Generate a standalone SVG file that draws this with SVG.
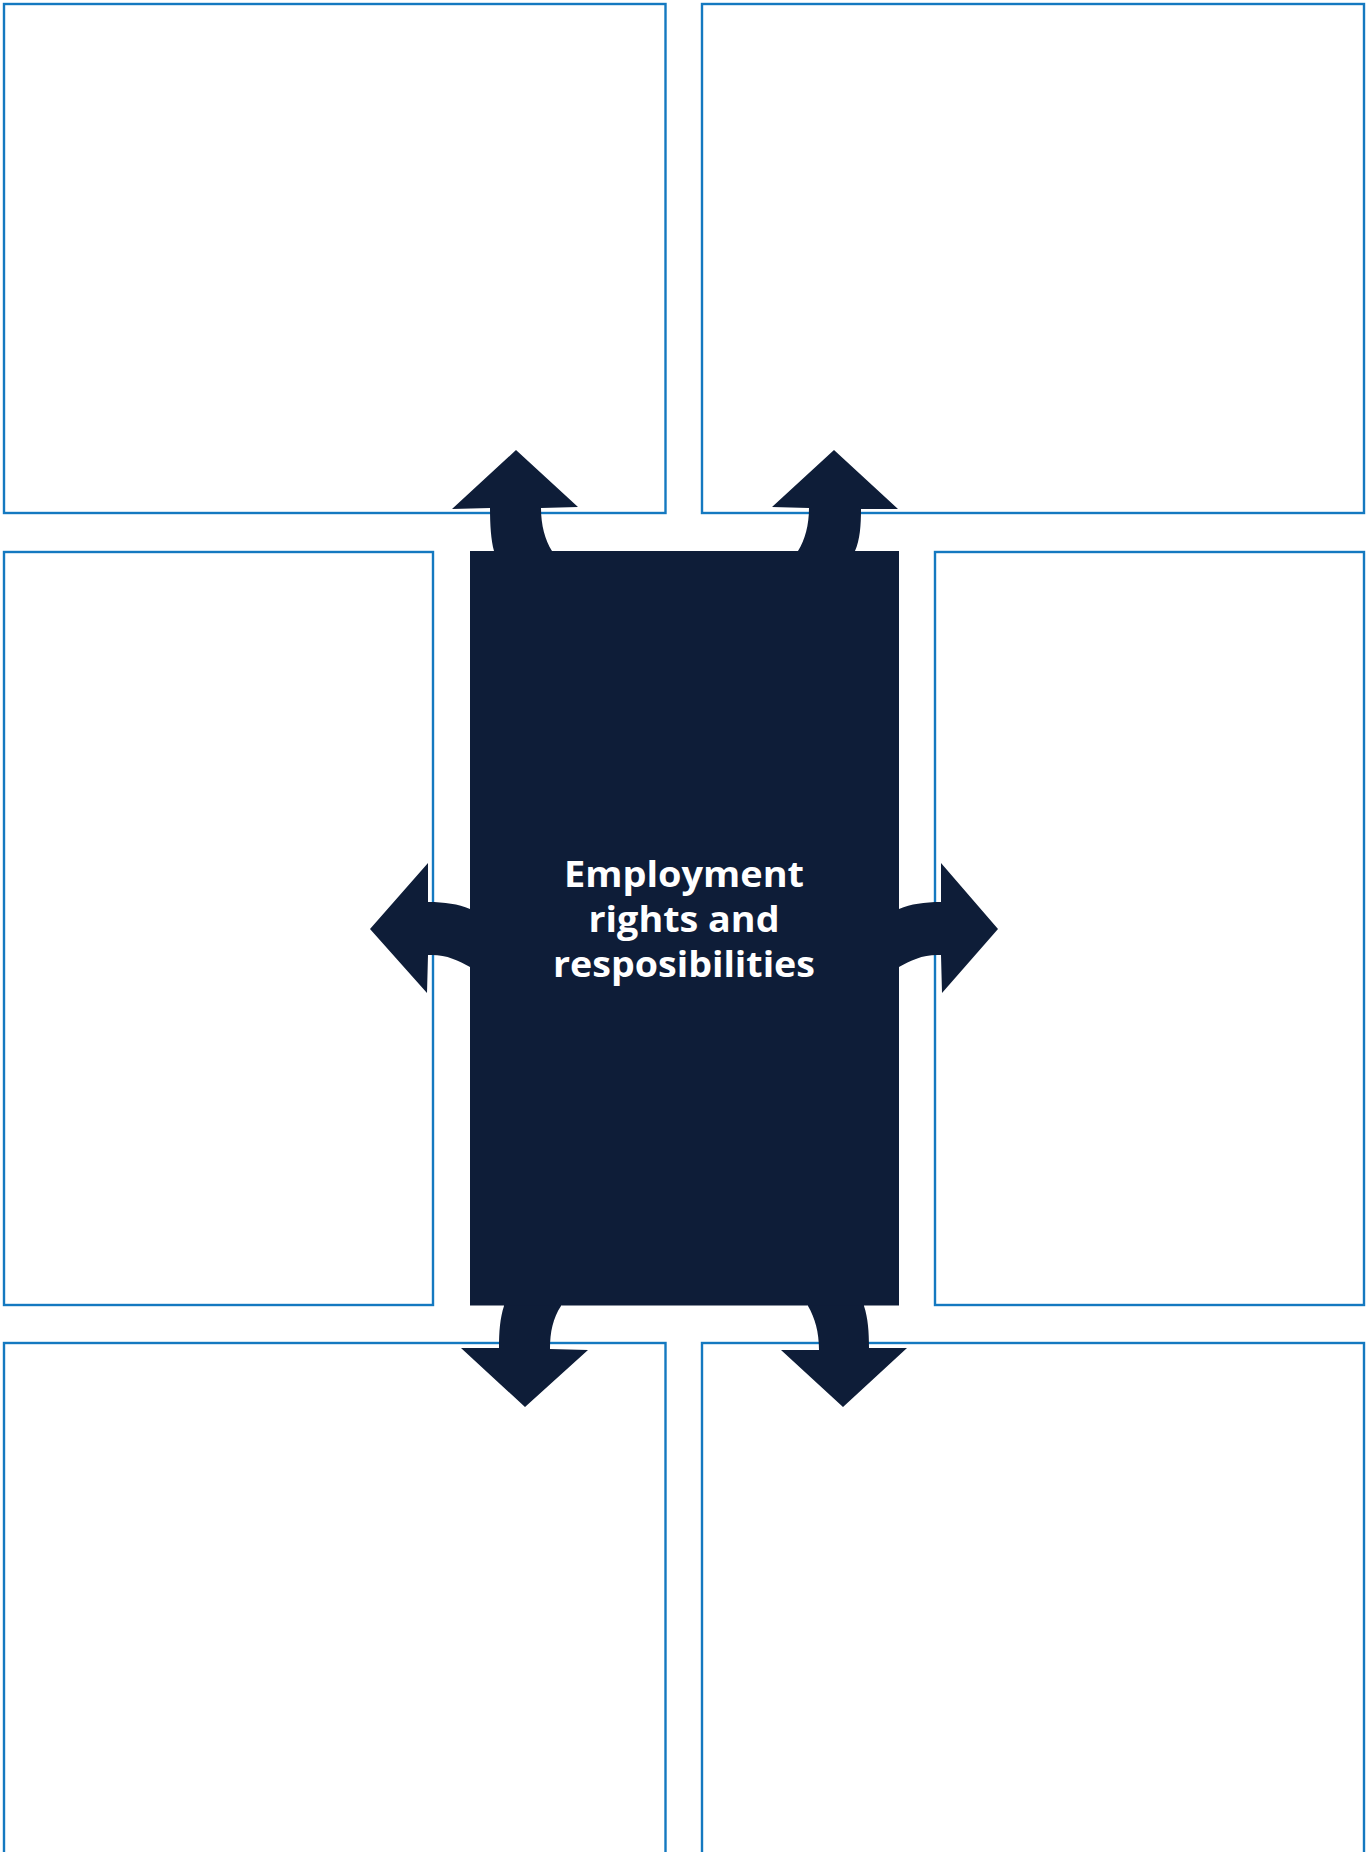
<svg xmlns="http://www.w3.org/2000/svg" width="1368" height="1852" viewBox="0 0 1368 1852">
<style>
.box{fill:#fff;stroke:#1479C0;stroke-width:2.4}
.arr{fill:#0E1D38}
.center{fill:#0E1D38}
.lbl{font-family:"Open Sans","Noto Sans","Liberation Sans",sans-serif;font-weight:bold;font-size:35px;fill:#fff;text-anchor:middle}
</style>
<rect width="1368" height="1852" fill="#fff"/>
<g id="box-top-left"><rect class="box" x="4" y="4" width="661.5" height="509"/></g>
<g id="box-top-right"><rect class="box" x="702" y="4" width="662" height="509"/></g>
<g id="box-mid-left"><rect class="box" x="4" y="552" width="429" height="753"/></g>
<g id="box-mid-right"><rect class="box" x="935" y="552" width="429" height="753"/></g>
<g id="box-bottom-left"><rect class="box" x="4" y="1343" width="661.5" height="560"/></g>
<g id="box-bottom-right"><rect class="box" x="702" y="1343" width="662" height="560"/></g>
<g id="connectors">
<path class="arr" d="M494 560 L494 551 C491 540 490 525 490 508 L452 509 L516 450 L578 507 L541 508 C541 525 545 540 552 551 L552 560 Z"/>
<path class="arr" d="M798 560 L798 551 C805 540 809 525 809 508 L772 507 L834 450 L898 509 L861 509 C861 525 860 540 855 551 L855 560 Z"/>
<path class="arr" d="M504 1298 L504 1306 C500 1318 499 1332 499 1348 L461 1348 L525 1407 L588 1350 L550 1349 C550 1332 553 1318 561 1306 L561 1298 Z"/>
<path class="arr" d="M808 1298 L808 1306 C815 1318 819 1332 819 1350 L781 1350 L843 1407 L907 1348 L869 1348 C869 1332 868 1318 864 1306 L864 1298 Z"/>
<path class="arr" d="M478 909 L470 909 C458 904 445 902 428 902 L428 863 L370 929 L427 993 L428 955 C445 954 458 960 470 967 L478 967 Z"/>
<path class="arr" d="M891 909 L899 909 C911 904 924 902 941 902 L941 863 L998 929 L942 993 L941 955 C924 954 911 960 899 967 L891 967 Z"/>
</g>
<g id="center-node">
<rect class="center" x="470" y="551" width="429" height="754.5"/>
<text class="lbl" x="684" y="887" textLength="240" lengthAdjust="spacingAndGlyphs">Employment</text>
<text class="lbl" x="684" y="932" textLength="191" lengthAdjust="spacingAndGlyphs">rights and</text>
<text class="lbl" x="684" y="977" textLength="262" lengthAdjust="spacingAndGlyphs">resposibilities</text>
</g>
</svg>
